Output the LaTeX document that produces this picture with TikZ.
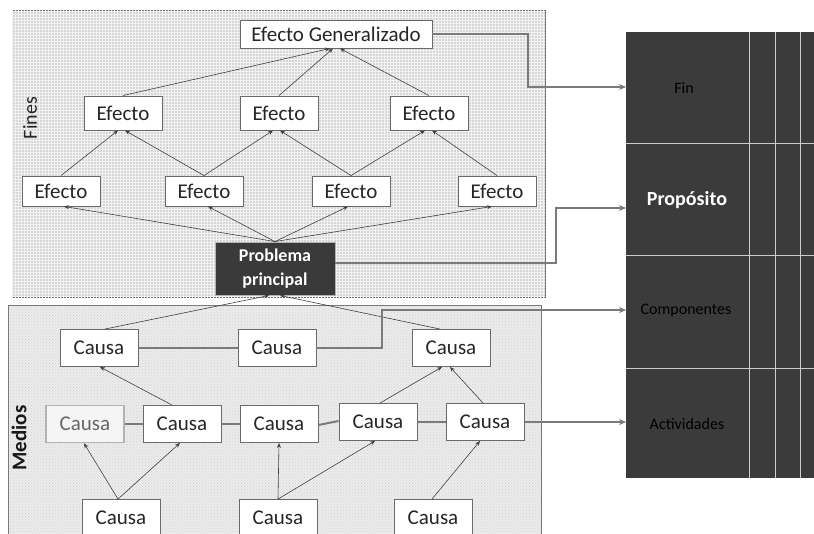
\documentclass[tikz,border=0pt]{standalone}
\usepackage{fontspec}
\setmainfont{Carlito}
\usetikzlibrary{arrows.meta,patterns}
\definecolor{finesbg}{HTML}{D6D6D6}
\definecolor{mediosbg}{HTML}{ECECEC}
\definecolor{matbg}{HTML}{3B3B3B}
\definecolor{ppbg}{HTML}{3A3A3A}
\definecolor{boxline}{HTML}{6A6A6A}
\definecolor{conn}{HTML}{7A7A7A}
\tikzset{
  bx/.style={draw=boxline, fill=white, line width=0.9pt, inner sep=0pt,
    minimum width=78pt, minimum height=32pt, font=\fontsize{21}{24}\selectfont, text=black!85},
  efb/.style={bx, minimum height=34pt},
  efc/.style={bx, minimum height=30pt},
  cau/.style={bx, minimum height=37pt},
  arr/.style={draw=black!75, line width=0.6pt, -{Stealth[length=5pt,width=4pt]}},
  link/.style={draw=conn, line width=2pt, -{Stealth[length=7pt,width=6pt]}},
  hline/.style={draw=conn, line width=2pt},
  matlab/.style={font=\fontsize{16}{18}\selectfont, text=black},
  panel/.style={draw=black!55, line width=0.8pt}
}
\begin{document}
\begin{tikzpicture}[x=1pt,y=-1pt]
\useasboundingbox (0,0) rectangle (814,533);
\fill[white] (0,0) rectangle (814,533);
% panels
\path[panel, fill=finesbg] (12,10) rectangle (545,297);
\path[pattern=grid, pattern color=white!90!gray] (12,10) rectangle (545,297);
\path[panel, fill=mediosbg] (8,305) rectangle (541,540);
\path[pattern=crosshatch dots, pattern color=gray!35] (8,305) rectangle (541,540);
\node[rotate=90, font=\fontsize{20}{22}\selectfont, text=black!85] (fines) at (30,118) {Fines};
\node[rotate=90, font=\bfseries\fontsize{21}{24}\selectfont, text=black!90] (medios) at (19,438) {Medios};

% matrix
\node[fill=matbg, inner sep=0pt, minimum width=188pt, minimum height=446pt, anchor=north west] (mat) at (626,32) {};
\foreach \xx in {749,775,800} \draw[gray!40, line width=0.8pt] (\xx,32) -- (\xx,478);
\foreach \yy in {143,255,368} \draw[gray!40, line width=0.8pt] (626,\yy) -- (814,\yy);
\node[matlab] (lfin) at (684,88) {Fin};
\node[font=\bfseries\fontsize{20}{22}\selectfont, text=white] (lprop) at (687,200) {Propósito};
\node[matlab] (lcomp) at (686,311) {Componentes};
\node[matlab] (lact) at (687,424) {Actividades};

% Fines nodes
\node[bx, minimum width=192pt, minimum height=28pt] (eg) at (336,34) {Efecto Generalizado};
\node[efb] (e2a) at (123,113) {Efecto};
\node[efb] (e2b) at (279,113) {Efecto};
\node[efb] (e2c) at (429,113) {Efecto};
\node[efc] (e3a) at (61,191) {Efecto};
\node[efc] (e3b) at (204,191) {Efecto};
\node[efc] (e3c) at (351,191) {Efecto};
\node[efc] (e3d) at (497,191) {Efecto};
\node[draw=gray!60, fill=ppbg, line width=0.9pt, minimum width=120pt, minimum height=53pt, inner sep=0pt,
  align=center, text=white, font=\bfseries\fontsize{18}{24}\selectfont] (pp) at (275,268.5) {Problema\\principal};

% Medios nodes
\node[cau] (c1a) at (99,348) {Causa};
\node[cau] (c1b) at (277,348) {Causa};
\node[cau] (c1c) at (451,348) {Causa};
\node[cau, draw=gray!60, fill=gray!8, text=black!60, line width=1.6pt] (c2a) at (85,424) {Causa};
\node[cau] (c2b) at (182,424) {Causa};
\node[cau] (c2c) at (279,424) {Causa};
\node[cau] (c2d) at (378,422) {Causa};
\node[cau] (c2e) at (485,422) {Causa};
\node[cau] (c3a) at (121,518) {Causa};
\node[cau] (c3b) at (278,518) {Causa};
\node[cau] (c3c) at (433,518) {Causa};

% Fines arrows
\draw[arr] (e2a.north) -- ([xshift=-6pt]eg.south);
\draw[arr] (e2b.north) -- ([xshift=-3pt]eg.south);
\draw[arr] (e2c.north) -- ([xshift=4pt]eg.south);
\draw[arr] (e3a.north) -- ([xshift=-5pt]e2a.south);
\draw[arr] (e3b.north) -- ([xshift=2pt]e2a.south);
\draw[arr] (e3b.north) -- ([xshift=-6pt]e2b.south);
\draw[arr] (e3c.north) -- ([xshift=1pt]e2b.south);
\draw[arr] (e3c.north) -- ([xshift=-4pt]e2c.south);
\draw[arr] (e3d.north) -- ([xshift=3pt]e2c.south);
\draw[arr] (pp.north) -- ([xshift=3pt]e3a.south);
\draw[arr] (pp.north) -- ([xshift=4pt]e3b.south);
\draw[arr] (pp.north) -- ([xshift=-3pt]e3c.south);
\draw[arr] (pp.north) -- ([xshift=-5pt]e3d.south);

% Medios arrows
\draw[arr] ([xshift=6pt]c1a.north) -- ([xshift=-6pt]pp.south);
\draw[arr] ([xshift=-11pt]c1c.north) -- ([xshift=5pt]pp.south);
\draw[arr] ([xshift=-10pt]c2b.north) -- ([xshift=1pt]c1a.south);
\draw[arr] ([xshift=2pt]c2d.north) -- ([xshift=-9pt]c1c.south);
\draw[arr] ([xshift=-2pt]c2e.north) -- ([xshift=-1pt]c1c.south);
\draw[arr] ([xshift=-3pt]c3a.north) -- ([xshift=-1pt]c2a.south);
\draw[arr] ([xshift=-3pt]c3a.north) -- ([xshift=-2pt]c2b.south);
\draw[arr] (c3b.north) -- (c2c.south);
\draw[arr] (c3b.north) -- ([xshift=-3pt]c2d.south);
\draw[arr] ([xshift=-1pt]c3c.north) -- ([xshift=-5pt]c2e.south);

% horizontal links between causes
\draw[hline] (c1a.east) -- (c1b.west);
\draw[hline] (c2a.east) -- (c2b.west);
\draw[hline] (c2b.east) -- (c2c.west);
\draw[hline] ([yshift=-1pt]c2c.east) -- ([yshift=1pt]c2d.west);
\draw[hline] (c2d.east) -- (c2e.west);

% links to matrix
\coordinate (finA) at (528,87);
\coordinate (finIn) at (626,87);
\coordinate (propA) at (556,208);
\coordinate (propIn) at (626,208);
\coordinate (compA) at (382,310);
\coordinate (compIn) at (626,310);
\coordinate (actIn) at (626,422);
\draw[link] (eg.east) -| (finA) -- (finIn);
\draw[link] ([yshift=6pt]pp.east) -| (propA) -- (propIn);
\draw[link] (c1b.east) -| (compA) -- (compIn);
\draw[link] (c2e.east) -- (actIn);
\end{tikzpicture}
\end{document}
